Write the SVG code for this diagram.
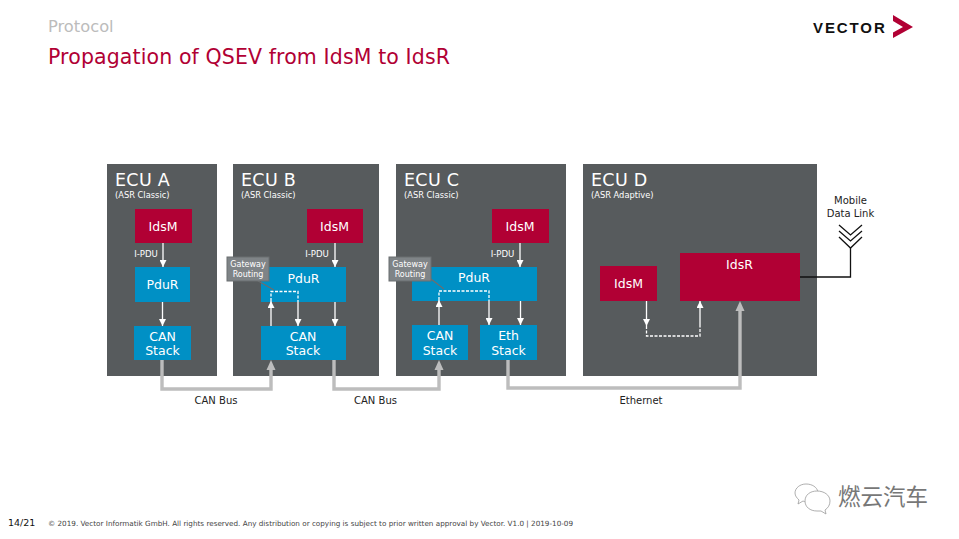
<svg xmlns="http://www.w3.org/2000/svg" width="959" height="539" viewBox="0 0 959 539">
<defs>
<style>
text{font-family:"DejaVu Sans",Verdana,sans-serif}
.ecu{fill:#575b5d}
.red{fill:#b10034}
.blue{fill:#0090c5}
.t{fill:#fff;font-size:12.500px;text-anchor:middle}
.h{fill:#fff;font-size:17.500px;letter-spacing:.3px}
.s{fill:#fff;font-size:8.300px}
.p{fill:#fff;font-size:8.600px;text-anchor:middle}
.l{fill:#222;font-size:10px;text-anchor:middle}
.w{fill:none;stroke:#fff;stroke-width:1.300}
.d{fill:none;stroke:#fff;stroke-width:1.300;stroke-dasharray:3 1.500}
.g{fill:none;stroke:#bdbdbd;stroke-width:3.400}
.tag{fill:#7f8487;stroke:#6a6e70;stroke-width:1}
.gw{fill:#fff;font-size:8px;text-anchor:middle}
</style>
<marker id="aw" markerUnits="userSpaceOnUse" markerWidth="7" markerHeight="7" refX="7" refY="3.500" orient="auto" viewBox="0 0 7 7"><path d="M0 0 L7 3.500 L0 7Z" fill="#fff"/></marker>
</defs>
<rect width="959" height="539" fill="#fff"/>
<g id="header">
<text x="48" y="32" style="font-size:16.300px" fill="#bcbcbc">Protocol</text>
<text x="48" y="63.500" style="font-size:20.500px;letter-spacing:.12px" fill="#b10034">Propagation of QSEV from IdsM to IdsR</text>
<text x="813" y="32.500" style="font-size:15px;font-weight:700;letter-spacing:1.900px;font-family:'Liberation Sans',sans-serif" fill="#111">VECTOR</text>
<path d="M893 15 L913 27 L893 38 L893 32.500 L903 27 L893 21Z" fill="#b10034"/>
</g>
<g id="ecu-a">
<rect class="ecu" x="107" y="164" width="110" height="212"/>
<text class="h" x="115" y="186">ECU A</text><text class="s" x="115" y="198">(ASR Classic)</text>
<rect class="red" x="135" y="209" width="57" height="34"/><text class="t" x="163" y="231">IdsM</text>
<text class="p" x="146" y="256.500">I-PDU</text>
<rect class="blue" x="135" y="267" width="55" height="35"/><text class="t" x="162.500" y="289">PduR</text>
<rect class="blue" x="134" y="326" width="57" height="34"/><text class="t" x="162.500" y="341">CAN</text><text class="t" x="162.500" y="355">Stack</text>
</g>
<g id="ecu-b">
<rect class="ecu" x="233" y="164" width="146" height="212"/>
<text class="h" x="241" y="186">ECU B</text><text class="s" x="241" y="198">(ASR Classic)</text>
<rect class="red" x="307" y="209" width="56" height="34"/><text class="t" x="334.500" y="231">IdsM</text>
<text class="p" x="317" y="256.500">I-PDU</text>
<rect class="blue" x="261" y="267" width="85" height="35"/><text class="t" x="303.500" y="283">PduR</text>
<rect class="blue" x="261" y="326" width="85" height="34"/><text class="t" x="303" y="341">CAN</text><text class="t" x="303" y="355">Stack</text>
</g>
<g id="ecu-c">
<rect class="ecu" x="396" y="164" width="170" height="212"/>
<text class="h" x="404" y="186">ECU C</text><text class="s" x="404" y="198">(ASR Classic)</text>
<rect class="red" x="492" y="209" width="57" height="34"/><text class="t" x="520" y="231">IdsM</text>
<text class="p" x="502.500" y="256.500">I-PDU</text>
<rect class="blue" x="412" y="267" width="125" height="34"/><text class="t" x="474" y="282">PduR</text>
<rect class="blue" x="412" y="325" width="56" height="35"/><text class="t" x="440" y="340">CAN</text><text class="t" x="440" y="355">Stack</text>
<rect class="blue" x="480" y="325" width="57" height="35"/><text class="t" x="508.500" y="340">Eth</text><text class="t" x="508.500" y="355">Stack</text>
</g>
<g id="ecu-d">
<rect class="ecu" x="583" y="164" width="234" height="212"/>
<text class="h" x="591" y="186">ECU D</text><text class="s" x="591" y="198">(ASR Adaptive)</text>
<rect class="red" x="600" y="266" width="57" height="35"/><text class="t" x="628.500" y="288">IdsM</text>
<rect class="red" x="680" y="253" width="120" height="48"/><text class="t" x="739.500" y="269">IdsR</text>
</g>
<g id="connectors">
<path class="w" d="M163 243V267" marker-end="url(#aw)"/>
<path class="w" d="M162.500 302V326" marker-end="url(#aw)"/>
<path class="w" d="M335 243V267" marker-end="url(#aw)"/>
<path class="w" d="M335 302V326" marker-end="url(#aw)"/>
<path class="w" d="M271 326V301" marker-end="url(#aw)"/>
<path class="d" d="M271 301V291.500H298V302"/>
<path class="w" d="M298 302V326" marker-end="url(#aw)"/>
<path class="w" d="M520 243V267" marker-end="url(#aw)"/>
<path class="w" d="M520.500 301V325" marker-end="url(#aw)"/>
<path class="w" d="M439 325V300" marker-end="url(#aw)"/>
<path class="d" d="M439 300V291H489V301"/>
<path class="w" d="M489 301V325" marker-end="url(#aw)"/>
<path class="w" d="M646.500 301V326" marker-end="url(#aw)"/>
<path class="d" d="M646.500 326V336H700V326"/>
<path class="w" d="M700 326V301" marker-end="url(#aw)"/>
<path class="g" d="M162 360V389H271V369"/>
<path d="M271 360L275.500 370H266.500Z" fill="#bdbdbd"/>
<path class="g" d="M334 360V389H439V369"/>
<path d="M439 360L443.500 370H434.500Z" fill="#bdbdbd"/>
<path class="g" d="M508 360V388H740V309"/>
<path d="M740 301L744.500 311H735.500Z" fill="#bdbdbd"/>
<path d="M800 277H850.500V247" fill="none" stroke="#111" stroke-width="1.300"/>
<path d="M839 225L850.500 235L862 225M839 231L850.500 241L862 231M839 237L850.500 248L862 237" fill="none" stroke="#111" stroke-width="1.300"/>
</g>
<g id="gateway-b">
<path class="tag" d="M248 275L274 290L258 281Z"/>
<rect class="tag" x="227" y="257" width="42" height="24"/>
<text class="gw" x="248" y="267">Gateway</text><text class="gw" x="248" y="277">Routing</text>
</g>
<g id="gateway-c">
<path class="tag" d="M425 275L444 289L434 281Z"/>
<rect class="tag" x="389" y="257" width="42" height="24"/>
<text class="gw" x="410" y="267">Gateway</text><text class="gw" x="410" y="277">Routing</text>
</g>
<g id="labels">
<text class="l" x="216" y="403.500">CAN Bus</text>
<text class="l" x="375.500" y="403.500">CAN Bus</text>
<text class="l" x="641" y="403.500">Ethernet</text>
<text class="l" x="850.500" y="204">Mobile</text>
<text class="l" x="850.500" y="217">Data Link</text>
</g>
<g id="footer">
<text x="8" y="526" style="font-size:9.500px" fill="#111">14/21</text>
<text x="48" y="526" style="font-size:7.230px" fill="#444">© 2019. Vector Informatik GmbH. All rights reserved. Any distribution or copying is subject to prior written approval by Vector. V1.0 | 2019-10-09</text>
</g>
<g id="watermark">
<path d="M806 484c-6 0-11 4-11 9 0 3 2 5 4 7l-1 4 5-3c2 1 4 1 6 1" fill="#fff" stroke="#9a9a9a" stroke-width=".8"/>
<path d="M806 484c6 0 11 3 12 8" fill="none" stroke="#9a9a9a" stroke-width=".8"/>
<path d="M817 491c-7 0-12 4-12 10s5 10 12 10c1 0 3 0 4 0l5 3-1-4c3-2 5-5 5-9 0-6-6-10-13-10Z" fill="#fff" stroke="#9a9a9a" stroke-width=".8"/>
<text x="838" y="505" style="font-size:22.500px;font-family:'Noto Sans CJK SC',sans-serif" fill="#777">燃云汽车</text>
</g>
</svg>
